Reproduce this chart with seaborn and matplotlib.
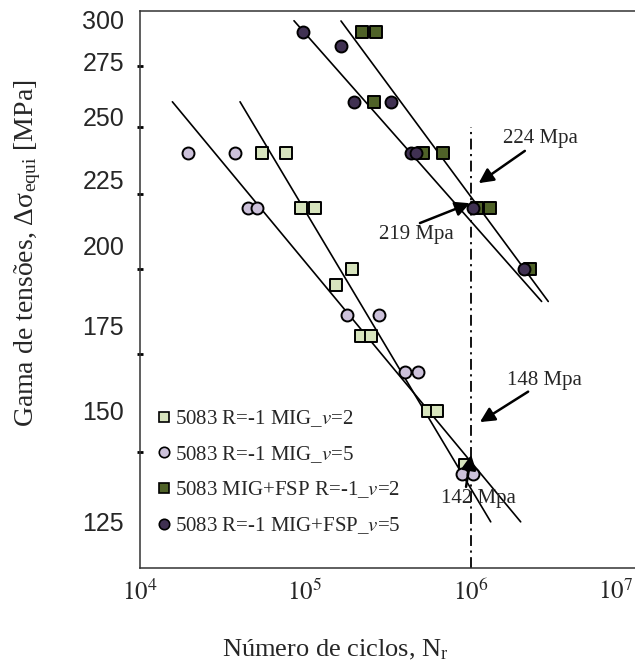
import numpy as np
import pandas as pd
import matplotlib
matplotlib.use("Agg")
import matplotlib.pyplot as plt
import seaborn as sns
from matplotlib.ticker import FixedLocator, FixedFormatter, NullFormatter, NullLocator
from matplotlib.lines import Line2D
from matplotlib.transforms import ScaledTranslation

# ---------------- data ----------------
series_labels = ["5083 R=-1 MIG_$v$=2", "5083 R=-1 MIG_$v$=5",
                 "5083 MIG+FSP R=-1_$v$=2", "5083 R=-1 MIG+FSP_$v$=5"]

mig2_n = [5.5e4, 7.7e4, 9.5e4, 1.15e5, 1.93e5, 1.54e5, 2.18e5, 2.51e5, 5.5e5, 6.3e5, 9.3e5]
mig2_s = [240, 240, 220, 220, 200, 195, 180, 180, 160, 160, 147]
mig5_n = [1.95e4, 3.8e4, 4.5e4, 5.1e4, 1.79e5, 2.79e5, 4.0e5, 4.8e5, 8.85e5, 1.04e6]
mig5_s = [240, 240, 220, 220, 186, 186, 170, 170, 145, 145]
fsp2_n = [2.2e5, 2.7e5, 2.6e5, 5.2e5, 6.8e5, 1.09e6, 1.32e6, 2.29e6]
fsp2_s = [290, 290, 260, 240, 240, 220, 220, 200]
fsp5_n = [9.7e4, 1.64e5, 1.99e5, 3.3e5, 4.4e5, 4.7e5, 1.03e6, 2.1e6]
fsp5_s = [290, 284, 260, 260, 240, 240, 220, 200]

# fitted S-N lines (end points)
fit_mig5_n = [1.58e4, 2.01e6]
fit_mig5_s = [260, 134.4]
fit_mig2_n = [4.05e4, 1.325e6]
fit_mig2_s = [260, 134.4]
fit_fsp5_n = [8.58e4, 2.69e6]
fit_fsp5_s = [295.3, 190.0]
fit_fsp2_n = [1.65e5, 2.95e6]
fit_fsp2_s = [295.2, 190.0]

# vertical reference line at 1e6 cycles
ref_n = [1e6, 1e6]
ref_s = [125, 250]

# annotations: text, text position, arrow tail, arrow tip
ann_text = ["224 Mpa", "219 Mpa", "148 Mpa", "142 Mpa"]
ann_text_pos = [(2.63e6, 245.5), (4.72e5, 211.0), (2.78e6, 167.9), (1.11e6, 139.4)]
ann_tail = [(2.13e6, 240.7), (4.95e5, 214.9), (2.23e6, 164.9), (9.4e5, 142.0)]
ann_tip = [(1.12e6, 228.8), (9.93e5, 221.7), (1.14e6, 157.2), (1.01e6, 149.3)]

# axis ticks
xticks = [1e4, 1e5, 1e6, 1e7]
xtick_labels = ["$10^{4}$", "$10^{5}$", "$10^{6}$", "$10^{7}$"]
ytick_marks = [275, 250, 225, 200, 175, 150]
ylabel_vals = [295.7, 277.2, 254.0, 230.0, 207.6, 183.1, 160.2, 134.4]
ylabel_text = ["300", "275", "250", "225", "200", "175", "150", "125"]

# ---------------- style ----------------
sns.set_theme(style="white")
plt.rcParams["font.family"] = ["Liberation Serif", "DejaVu Serif"]
plt.rcParams["mathtext.fontset"] = "stix"

c_mig2 = "#d7e4bd"
c_mig5 = "#ccc1da"
c_fsp2 = "#4f6228"
c_fsp5 = "#403152"

fig = plt.figure(figsize=(6.35, 6.66), dpi=100)
ax = fig.add_axes([139.5 / 635, 1 - 568 / 666, (636 - 139.5) / 635, (568 - 10.7) / 666])
ax.set_xscale("log")
ax.set_yscale("log")

# fit lines
for n, s in [(fit_mig5_n, fit_mig5_s), (fit_mig2_n, fit_mig2_s),
             (fit_fsp5_n, fit_fsp5_s), (fit_fsp2_n, fit_fsp2_s)]:
    sns.lineplot(x=n, y=s, ax=ax, color="black", lw=1.2, estimator=None, sort=False, zorder=2)

ax.plot(ref_n, ref_s, color="black", lw=1.3, dashes=(6, 2.5, 1.2, 2.5), zorder=2)

# scatter points
sq = 82
ci = 74
ew = 1.4
sns.scatterplot(x=mig2_n, y=mig2_s, ax=ax, marker="s", s=sq, color=c_mig2,
                edgecolor="black", linewidth=ew, zorder=3)
sns.scatterplot(x=mig5_n, y=mig5_s, ax=ax, marker="o", s=ci, color=c_mig5,
                edgecolor="black", linewidth=ew, zorder=3)
sns.scatterplot(x=fsp2_n, y=fsp2_s, ax=ax, marker="s", s=sq, color=c_fsp2,
                edgecolor="black", linewidth=ew, zorder=3)
sns.scatterplot(x=fsp5_n, y=fsp5_s, ax=ax, marker="o", s=ci, color=c_fsp5,
                edgecolor="black", linewidth=ew, zorder=3)

# annotations
for t, tp, tail, tip in zip(ann_text, ann_text_pos, ann_tail, ann_tip):
    ax.annotate("", xy=tip, xytext=tail,
                arrowprops=dict(arrowstyle="-|>", color="black", lw=1.8,
                                mutation_scale=22, shrinkA=0, shrinkB=0),
                zorder=5)
    ax.text(tp[0], tp[1], t, fontsize=15, ha="center", va="center", zorder=4)

ax.set_xlim(1e4, 1e7)
ax.set_ylim(125, 300)

# x ticks
ax.xaxis.set_major_locator(FixedLocator(xticks))
ax.xaxis.set_major_formatter(FixedFormatter(xtick_labels))
ax.xaxis.set_minor_locator(NullLocator())
ax.tick_params(axis="x", which="major", length=0, pad=8, labelsize=18)
last = ax.get_xticklabels()[-1]
last.set_transform(last.get_transform() + ScaledTranslation(-20 / 100, 0, fig.dpi_scale_trans))

# y ticks: labels and tick marks as in the reference
ax.yaxis.set_major_locator(FixedLocator(ylabel_vals))
ax.yaxis.set_major_formatter(FixedFormatter(ylabel_text))
ax.yaxis.set_minor_locator(FixedLocator(ytick_marks))
ax.yaxis.set_minor_formatter(NullFormatter())
ax.tick_params(axis="y", which="major", length=0, pad=11, labelsize=18)
ax.tick_params(axis="y", which="minor", length=4, width=2, direction="inout", color="black", left=True)
for lab in ax.get_yticklabels():
    lab.set_fontfamily(["Liberation Sans", "DejaVu Sans"])

for side in ["left", "bottom", "top"]:
    ax.spines[side].set_color("#333333")
    ax.spines[side].set_linewidth(1.1)
ax.spines["right"].set_visible(False)

ax.set_xlabel("Número de ciclos, N$_{\\mathregular{r}}$", fontsize=19)
ax.xaxis.set_label_coords((335 - 139.5) / 496.5, (568 - 650) / 557.3)
ax.xaxis.label.set_va("center")
ax.set_ylabel("Gama de tensões, Δσ$_{\\mathregular{equi}}$ [MPa]", fontsize=20)
ax.yaxis.set_label_coords((28 - 139.5) / 496.5, (568 - 253) / 557.3)
ax.yaxis.label.set_va("center")

handles = [
    Line2D([], [], ls="none", marker="s", ms=7.5, mfc=c_mig2, mec="black", mew=1.2),
    Line2D([], [], ls="none", marker="o", ms=7.5, mfc=c_mig5, mec="black", mew=1.2),
    Line2D([], [], ls="none", marker="s", ms=7.5, mfc=c_fsp2, mec="black", mew=1.2),
    Line2D([], [], ls="none", marker="o", ms=7.5, mfc=c_fsp5, mec="black", mew=1.2),
]
ax.legend(handles, series_labels, loc="upper left",
          bbox_to_anchor=((155.7 - 139.5) / 496.5, (568 - 408) / 557.3),
          frameon=False, fontsize=15, borderpad=0, borderaxespad=0,
          handlelength=0.8, handletextpad=0.15, labelspacing=0.72)

fig.savefig("out.png", dpi=100)
